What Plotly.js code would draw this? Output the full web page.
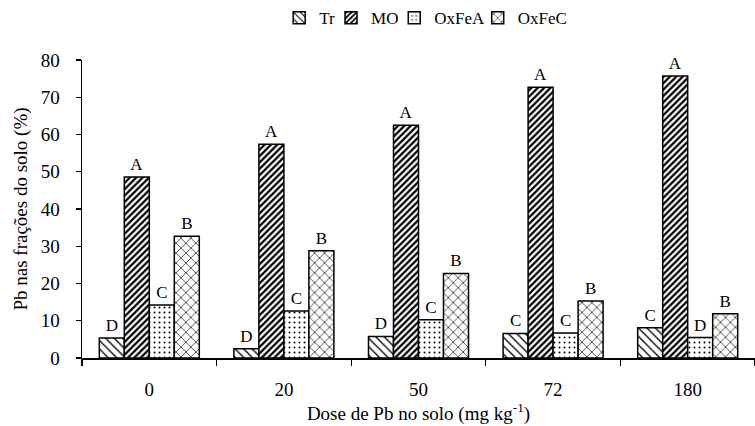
<!DOCTYPE html>
<html>
<head>
<meta charset="utf-8">
<script src="https://cdn.plot.ly/plotly-3.0.1.min.js"></script>
<style>html,body{margin:0;padding:0;background:#fff;}#chart{width:755px;height:426px;}</style>
</head>
<body>
<div id="chart"></div>
<script>
const doses = ["0", "20", "50", "72", "180"];
const seriesNames = ["Tr", "MO", "OxFeA", "OxFeC"];
const trValues = [5.4, 2.5, 5.8, 6.6, 8.1];
const moValues = [48.6, 57.4, 62.5, 72.7, 75.7];
const oxFeAValues = [14.2, 12.6, 10.3, 6.7, 5.5];
const oxFeCValues = [32.7, 28.8, 22.7, 15.3, 11.9];
const trLetters = ["D", "D", "D", "C", "C"];
const moLetters = ["A", "A", "A", "A", "A"];
const oxFeALetters = ["C", "C", "C", "C", "D"];
const oxFeCLetters = ["B", "B", "B", "B", "B"];

const FONT = "'Liberation Serif', 'Times New Roman', Times, serif";
const values = [trValues, moValues, oxFeAValues, oxFeCValues];
const letters = [trLetters, moLetters, oxFeALetters, oxFeCLetters];
const patterns = [
  {shape: "\\", size: 6, solidity: 0.22},
  {shape: "/", size: 4.5, solidity: 0.5},
  {shape: ".", size: 5, solidity: 0.12},
  {shape: "x", size: 7, solidity: 0.18}
];
const legendIds = ["legend", "legend2", "legend3", "legend4"];
const legendX = [0.293, 0.370, 0.464, 0.588];

const traces = seriesNames.map((name, i) => ({
  type: "bar",
  name: name,
  legend: legendIds[i],
  x: doses,
  y: values[i],
  text: letters[i],
  textposition: "outside",
  cliponaxis: false,
  textfont: {family: FONT, size: 17, color: "#000"},
  marker: {
    color: "#fff",
    line: {color: "#000", width: 1.5},
    pattern: Object.assign({fgcolor: "#000", bgcolor: "#fff", fillmode: "replace"}, patterns[i])
  }
}));

const layout = {
  width: 755,
  height: 426,
  margin: {l: 82, r: 0, t: 60, b: 68},
  paper_bgcolor: "#fff",
  plot_bgcolor: "#fff",
  barmode: "group",
  bargap: 0.257,
  bargroupgap: 0,
  font: {family: FONT, size: 19, color: "#000"},
  showlegend: true,
  xaxis: {
    type: "category",
    showline: true, linecolor: "#000", linewidth: 1.5,
    ticks: "outside", tickson: "boundaries", ticklen: 6, tickcolor: "#000", tickwidth: 1.2,
    showgrid: false, zeroline: false,
    tickfont: {family: FONT, size: 19},
    ticklabelstandoff: 14,
    title: {text: "Dose de Pb no solo (mg kg<sup>-1</sup>)", font: {family: FONT, size: 19}, standoff: 4}
  },
  yaxis: {
    range: [0, 80], dtick: 10,
    showline: true, linecolor: "#000", linewidth: 1.5,
    ticks: "outside", ticklen: 5, tickcolor: "#000", tickwidth: 1.2,
    showgrid: false, zeroline: false,
    tickfont: {family: FONT, size: 19},
    ticklabelstandoff: 12,
    title: {text: "Pb nas frações do solo (%)", font: {family: FONT, size: 19}, standoff: 8}
  }
};
legendIds.forEach((id, i) => {
  layout[id] = {
    orientation: "h",
    x: legendX[i], xanchor: "left",
    y: 1.14, yanchor: "middle",
    font: {family: FONT, size: 17, color: "#000"},
    itemwidth: 30,
    bgcolor: "rgba(0,0,0,0)"
  };
});

Plotly.newPlot("chart", traces, layout, {displayModeBar: false, staticPlot: true});
</script>
</body>
</html>
